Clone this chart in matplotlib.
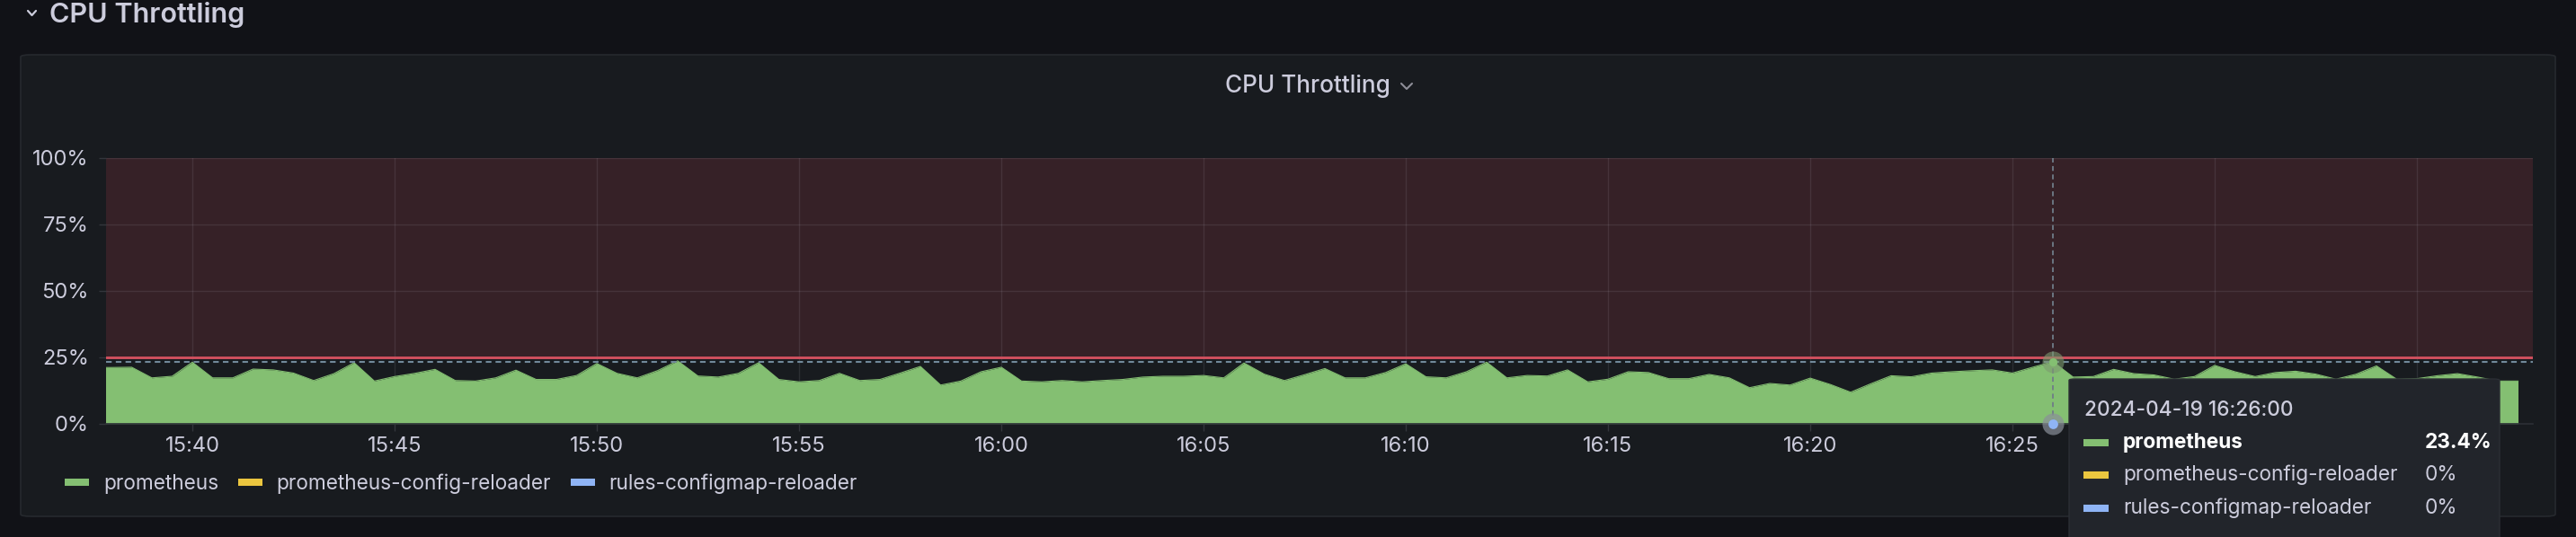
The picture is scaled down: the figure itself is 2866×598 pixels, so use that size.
import numpy as np
import pandas as pd
import matplotlib
matplotlib.use("Agg")
import matplotlib.pyplot as plt
import matplotlib.dates as mdates
from matplotlib.lines import Line2D
from matplotlib.patches import FancyBboxPatch

plt.rcParams['font.family'] = ['Inter', 'DejaVu Sans']

W, H = 2866, 598

series_names = ["prometheus", "prometheus-config-reloader", "rules-configmap-reloader"]
series_colors = ["#84bf72", "#ebc63f", "#8fb4f5"]

# throttling in %, one sample every 30 s starting 15:37:30
prometheus = [
    21.2,
    21.2, 21.3, 17.3, 17.9, 23.2, 17.3, 17.3, 20.6, 20.3, 19.1,   # 15:38
    16.3, 18.9, 23.0, 16.1, 17.8, 19.0, 20.5, 16.3, 16.1, 17.3,   # 15:43
    20.2, 16.7, 16.7, 18.2, 22.7, 19.0, 17.3, 20.0, 23.7, 18.0,   # 15:48
    17.6, 19.0, 23.0, 16.7, 15.8, 16.3, 19.0, 16.3, 16.7, 19.1,   # 15:53
    21.6, 14.6, 16.1, 19.6, 21.3, 16.1, 15.8, 16.3, 15.8, 16.3,   # 15:58
    16.7, 17.6, 17.9, 17.9, 18.2, 17.3, 22.9, 18.7, 16.3, 18.5,   # 16:03
    20.8, 17.3, 17.3, 19.3, 22.6, 17.7, 17.3, 19.6, 23.2, 17.3,   # 16:08
    18.2, 18.0, 20.3, 15.8, 16.8, 19.6, 19.3, 17.0, 17.0, 18.6,   # 16:13
    17.3, 13.6, 15.2, 14.6, 17.2, 14.8, 11.9, 15.1, 18.1, 17.7,   # 16:18
    19.1, 19.6, 20.0, 20.3, 19.1, 21.3, 23.4, 17.6, 17.8, 20.5,   # 16:23
    18.9, 18.4, 16.8, 17.8, 22.0, 19.6, 17.8, 19.3, 19.8, 18.7,   # 16:28
    16.8, 18.7, 21.8, 16.8, 17.0, 18.1, 18.9, 17.6, 16.1, 16.1,   # 16:33
]
config_reloader = [0.0] * len(prometheus)
rules_reloader = [0.0] * len(prometheus)

t_start = "2024-04-19 15:37:30"
view_from = "2024-04-19 15:37:52"
view_to = "2024-04-19 16:37:52"
hover_time = "2024-04-19 16:26:00"
threshold = 25
y_ticks = [0, 25, 50, 75, 100]
# tick labels that sit under the tooltip in the screenshot
hidden_ticks = ["16:30", "16:35"]

times = pd.date_range(t_start, periods=len(prometheus), freq="30s")
all_series = [prometheus, config_reloader, rules_reloader]

BG = "#111217"
PANEL = "#181b1f"
TEXT = "#ccccdc"
GRID_RGB = (0.8, 0.8, 0.86)
FS = 16.3


def fx(px):
    return px / W


def fy(py):
    return 1 - py / H


fig = plt.figure(figsize=(W / 100, H / 100), dpi=100, facecolor=BG)

# panel frame
fig.add_artist(FancyBboxPatch((fx(23), fy(575)), (2843 - 23) / W, (575 - 61) / H,
                              boxstyle="round,pad=0,rounding_size=0.004",
                              transform=fig.transFigure, facecolor=PANEL,
                              edgecolor="#26292e", lw=1.2, zorder=-1))

# row header + panel title
fig.add_artist(Line2D([fx(31), fx(35.5), fx(40)], [fy(12), fy(17), fy(12)],
                      color=TEXT, lw=1.6, solid_capstyle="round"))
fig.text(fx(55), fy(25), "CPU Throttling", color=TEXT, fontsize=22,
         fontweight="semibold", va="baseline", ha="left")
fig.text(fx(1363), fy(103), "CPU Throttling", color=TEXT, fontsize=18.8,
         fontweight="medium", va="baseline", ha="left")
fig.add_artist(Line2D([fx(1559), fx(1565), fx(1571)], [fy(93), fy(99), fy(93)],
                      color="#8e8e98", lw=1.5, solid_capstyle="round"))

ax = fig.add_axes([fx(118), fy(472), 2700 / W, 296 / H])
ax.set_facecolor("none")

# threshold area + line
ax.axhspan(threshold, 100, color="#f2495c", alpha=0.14, lw=0, zorder=0.2)
ax.axhline(threshold, color="#d0505e", lw=2.1, zorder=1.8)

for vals, color in zip(all_series[1:], series_colors[1:]):
    ax.plot(times, vals, color=color, lw=1, zorder=1.5)
ax.fill_between(times, 0, prometheus, color=series_colors[0], lw=0, zorder=2)
ax.plot(times, prometheus, color=series_colors[0], lw=0.8, zorder=2.1)

ax.set_xlim(pd.Timestamp(view_from), pd.Timestamp(view_to))
ax.set_ylim(0, 100)
ax.set_yticks(y_ticks)
ax.set_yticklabels([f"{v}%" for v in y_ticks])
ax.xaxis.set_major_locator(mdates.MinuteLocator(byminute=range(0, 60, 5)))
ax.xaxis.set_major_formatter(mdates.DateFormatter("%H:%M"))

ax.grid(True, color=GRID_RGB, alpha=0.11, lw=1)
ax.set_axisbelow(True)
for s in ["top", "right", "left"]:
    ax.spines[s].set_visible(False)
ax.spines["bottom"].set_color("#2c2f35")
ax.spines["bottom"].set_linewidth(1.2)
ax.tick_params(axis="both", colors="#33363c", labelcolor=TEXT, labelsize=17,
               length=5.8, width=1)
ax.tick_params(axis="y", pad=8)
ax.tick_params(axis="x", pad=4)

fig.canvas.draw()
for lab in ax.get_xticklabels():
    if lab.get_text() in hidden_ticks:
        lab.set_visible(False)

# hover crosshair
ht = pd.Timestamp(hover_time)
hi = list(times).index(ht)
hv = [s[hi] for s in all_series]
ax.axvline(ht, color="#6f7c88", lw=1.3, ls=(0, (3, 2.2)), zorder=4)
ax.axhline(hv[0], color="#71899a", lw=1.5, ls=(0, (3, 2.2)), zorder=4)
ax.scatter([ht], [hv[0]], s=300, color="#7d9a6f", alpha=0.6, zorder=5, clip_on=False, lw=0)
ax.scatter([ht], [hv[0]], s=45, color=series_colors[0], zorder=6, clip_on=False, lw=0)
ax.scatter([ht], [hv[2]], s=300, color="#8a8f99", alpha=0.7, zorder=5, clip_on=False, lw=0)
ax.scatter([ht], [hv[2]], s=60, color=series_colors[2], zorder=6, clip_on=False, lw=0)

# legend
handles = [Line2D([], [], color=c, lw=5.8, solid_capstyle="butt") for c in series_colors]
fig.legend(handles, series_names, loc="center left", bbox_to_anchor=(fx(72), fy(539)),
           ncol=3, frameon=False, fontsize=FS, labelcolor=TEXT, handlelength=1.2,
           handletextpad=0.7, columnspacing=0.95, borderpad=0, borderaxespad=0)

# tooltip
fig.add_artist(FancyBboxPatch((fx(2302), fy(620)), (2781 - 2302) / W, (620 - 422) / H,
                              boxstyle="round,pad=0,rounding_size=0.0025",
                              transform=fig.transFigure, facecolor="#22252b",
                              edgecolor="#2b2e34", lw=1, zorder=10))
fig.text(fx(2319), fy(463), hover_time, color=TEXT, fontsize=FS,
         fontweight="medium", va="baseline", zorder=11)
row_base = [499, 535, 572]
for i, (name, color, v) in enumerate(zip(series_names, series_colors, hv)):
    b = row_base[i]
    bold = i == 0
    fig.add_artist(Line2D([fx(2318), fx(2346)], [fy(b - 6), fy(b - 6)], color=color,
                          lw=5.8, solid_capstyle="butt", zorder=11))
    fig.text(fx(2362), fy(b), name, color="white" if bold else TEXT, fontsize=FS,
             fontweight="bold" if bold else "normal", va="baseline", zorder=11)
    fig.text(fx(2698), fy(b), f"{v:g}%", color="white" if bold else TEXT, fontsize=FS,
             fontweight="bold" if bold else "normal", va="baseline", zorder=11)

fig.savefig("out.png", dpi=100, facecolor=BG)
